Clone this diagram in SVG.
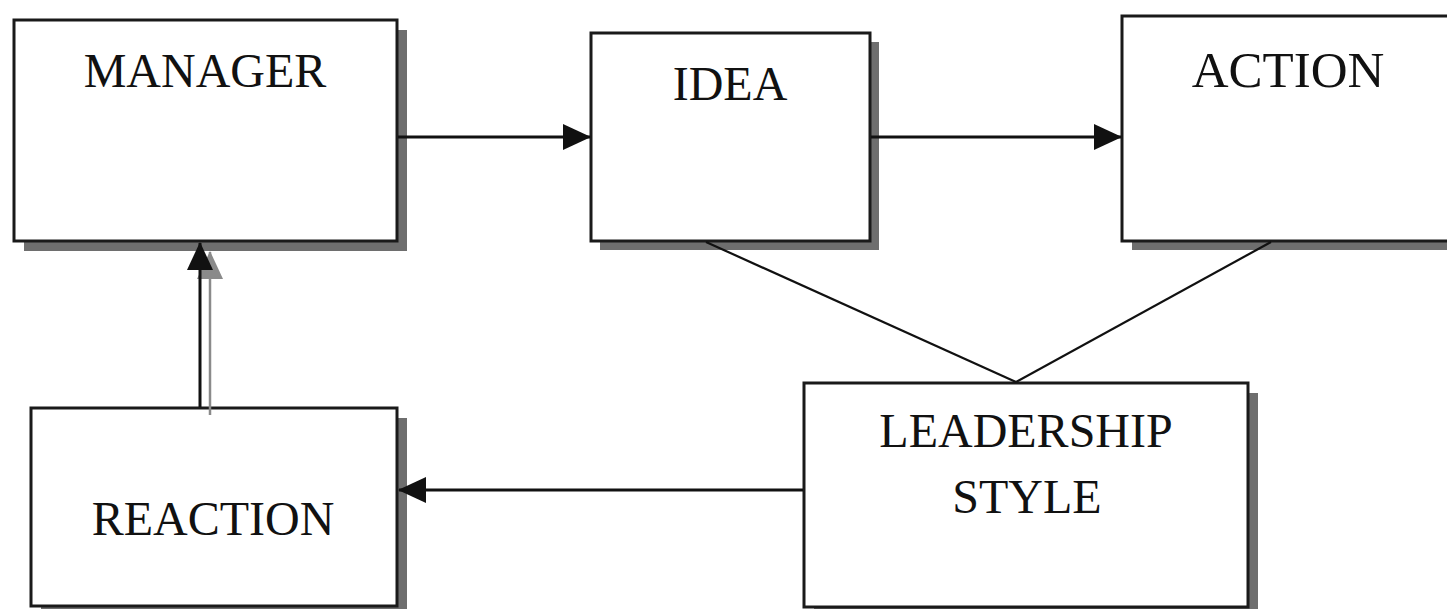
<svg xmlns="http://www.w3.org/2000/svg" width="1447" height="609" viewBox="0 0 1447 609">
  <style>
    .shadow { fill: #6e6e6e; }
    .box { fill: #ffffff; stroke: #1a1a1a; stroke-width: 3; }
    .lbl { font-family: "Liberation Serif", "Times New Roman", serif; font-size: 48px; fill: #111; text-anchor: middle; }
    .conn { stroke: #111; stroke-width: 3; fill: none; }
    .diag { stroke: #111; stroke-width: 2.2; fill: none; }
  </style>
  <defs>
    <marker id="ah" viewBox="0 0 28 26" refX="27" refY="13" markerWidth="28" markerHeight="26" markerUnits="userSpaceOnUse" orient="auto">
      <path d="M0,0 L28,13 L0,26 Z" fill="#111"/>
    </marker>
    <marker id="ahGray" viewBox="0 0 28 26" refX="27" refY="13" markerWidth="28" markerHeight="26" markerUnits="userSpaceOnUse" orient="auto">
      <path d="M0,0 L28,13 L0,26 Z" fill="#8a8a8a"/>
    </marker>
  </defs>
  <rect width="1447" height="609" fill="#ffffff"/>

  <g id="manager">
    <rect class="shadow" x="24" y="30" width="383" height="221"/>
    <rect class="box" x="14" y="20" width="383" height="221"/>
    <text class="lbl" x="205" y="87">MANAGER</text>
  </g>

  <g id="idea">
    <rect class="shadow" x="600" y="42" width="279" height="208"/>
    <rect class="box" x="591" y="33" width="279" height="208"/>
    <text class="lbl" x="730" y="100">IDEA</text>
  </g>

  <g id="action">
    <rect class="shadow" x="1132" y="26" width="330" height="224"/>
    <rect class="box" x="1122" y="16" width="340" height="225"/>
    <text class="lbl" x="1288" y="87" style="font-size:51px">ACTION</text>
  </g>

  <g id="leadership-style">
    <rect class="shadow" x="814" y="393" width="444" height="224"/>
    <rect class="box" x="804" y="383" width="444" height="224"/>
    <text class="lbl" x="1026" y="447">LEADERSHIP</text>
    <text class="lbl" x="1027" y="513">STYLE</text>
  </g>

  <g id="reaction">
    <rect class="shadow" x="41" y="418" width="366" height="198"/>
    <rect class="box" x="31" y="408" width="366" height="198"/>
    <text class="lbl" x="213" y="535">REACTION</text>
  </g>

  <g id="connectors">
    <line class="conn" x1="398" y1="137" x2="590" y2="137" marker-end="url(#ah)"/>
    <line class="conn" x1="871" y1="137" x2="1121" y2="137" marker-end="url(#ah)"/>
    <line class="conn" x1="803" y1="490" x2="399" y2="490" marker-end="url(#ah)"/>
    <line stroke="#8a8a8a" stroke-width="2.5" x1="210" y1="415" x2="210" y2="252" marker-end="url(#ahGray)"/>
    <line class="conn" x1="200" y1="407" x2="200" y2="243" marker-end="url(#ah)"/>
    <line class="diag" x1="706" y1="242" x2="1016" y2="382"/>
    <line class="diag" x1="1271" y1="242" x2="1016" y2="382"/>
  </g>
</svg>
